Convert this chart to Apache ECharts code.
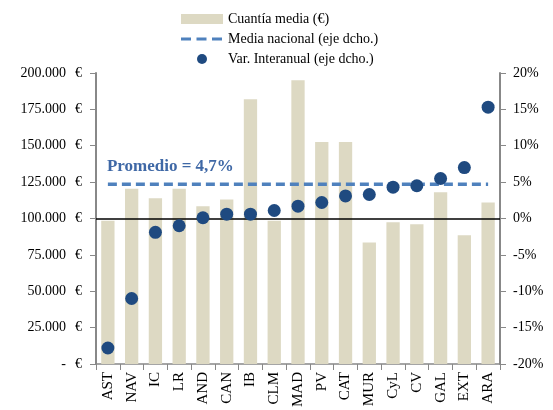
<!DOCTYPE html>
<html>
<head>
<meta charset="utf-8">
<script src="https://cdn.jsdelivr.net/npm/echarts@6/dist/echarts.min.js"></script>
<style>
  html, body { margin: 0; padding: 0; background: #fff; }
  #chart { width: 553px; height: 410px; }
</style>
</head>
<body>
<div id="chart"></div>
<script>
const categories = ['AST', 'NAV', 'IC', 'LR', 'AND', 'CAN', 'IB', 'CLM', 'MAD', 'PV', 'CAT', 'MUR', 'CyL', 'CV', 'GAL', 'EXT', 'ARA'];
const amounts = [98500, 120500, 114000, 120500, 108500, 113000, 182000, 98500, 195000, 152500, 152500, 83500, 97500, 96000, 118000, 88500, 111000];
const yoyChange = [-17.8, -11.0, -1.9, -1.0, 0.1, 0.6, 0.6, 1.1, 1.7, 2.2, 3.1, 3.3, 4.3, 4.5, 5.5, 7.0, 15.3];
const nationalAvg = 4.7;

const serif = '"Liberation Serif", "Times New Roman", serif';

// dashed legend icon: three dashes, tiny corner dots keep the 42x10 box
const dashIcon = 'path://M0,0h0.01v0.01h-0.01z M41.99,9.99h0.01v0.01h-0.01z ' +
    'M0,3.5h10v3h-10z M15.5,3.5h10v3h-10z M31,3.5h10v3h-10z';

const chart = echarts.init(document.getElementById('chart'));

function euroLabel(v) {
    if (v === 0) return '{n|-}{e|€}';
    return '{n|' + v.toLocaleString('de-DE') + '}{e|€}';
}

const option = {
    animation: false,
    textStyle: { fontFamily: serif },
    grid: { left: 96, right: 53, top: 73, bottom: 46 },
    legend: {
        orient: 'vertical',
        left: 176,
        top: 7,
        itemWidth: 42,
        itemHeight: 10,
        itemGap: 6,
        textStyle: { fontFamily: serif, fontSize: 14, color: '#000' },
        data: [
            { name: 'Cuantía media (€)', icon: 'rect' },
            { name: 'Media nacional (eje dcho.)', icon: dashIcon },
            'Var. Interanual (eje dcho.)',
        ],
    },
    xAxis: {
        type: 'category',
        data: categories,
        axisLine: { lineStyle: { color: '#888', width: 1.5 } },
        axisTick: { show: true, length: 6, lineStyle: { color: '#888' } },
        axisLabel: {
            rotate: 90,
            interval: 0,
            margin: 8,
            fontFamily: serif,
            fontSize: 15,
            color: '#000',
        },
    },
    yAxis: [
        {
            type: 'value',
            min: 0,
            max: 200000,
            interval: 25000,
            splitLine: { show: false },
            axisLine: { show: true, lineStyle: { color: '#888', width: 2 } },
            axisTick: { show: true, length: 6, lineStyle: { color: '#888' } },
            axisLabel: {
                margin: 14,
                formatter: euroLabel,
                rich: {
                    n: { fontFamily: serif, fontSize: 14, color: '#000', width: 52, align: 'right' },
                    e: { fontFamily: serif, fontSize: 14, color: '#000', padding: [0, 0, 0, 9] },
                },
            },
        },
        {
            type: 'value',
            min: -20,
            max: 20,
            interval: 5,
            splitLine: { show: false },
            axisLine: { show: true, lineStyle: { color: '#888', width: 2 } },
            axisTick: { show: true, length: 6, lineStyle: { color: '#888' } },
            axisLabel: {
                margin: 13,
                formatter: '{value}%',
                fontFamily: serif,
                fontSize: 14,
                color: '#000',
            },
        },
    ],
    series: [
        {
            name: 'Cuantía media (€)',
            type: 'bar',
            yAxisIndex: 0,
            data: amounts,
            barWidth: '56%',
            itemStyle: { color: '#DDD9C3' },
        },
        {
            name: 'Media nacional (eje dcho.)',
            type: 'line',
            yAxisIndex: 1,
            data: categories.map(() => nationalAvg),
            symbol: 'none',
            lineStyle: { color: '#4F81BD', width: 3.5, type: [9, 5] },
            itemStyle: { color: '#4F81BD' },
            z: 3,
            markPoint: {
                silent: true,
                symbol: 'circle',
                symbolSize: 0,
                data: [{
                    coord: [0, nationalAvg],
                    label: {
                        show: true,
                        position: 'top',
                        align: 'left',
                        distance: 0,
                        offset: [-1, -9],
                        formatter: 'Promedio = 4,7%',
                        fontFamily: serif,
                        fontWeight: 'bold',
                        fontSize: 17,
                        color: '#3F68A6',
                    },
                }],
            },
        },
        {
            name: 'Var. Interanual (eje dcho.)',
            type: 'scatter',
            yAxisIndex: 1,
            data: yoyChange,
            symbol: 'circle',
            symbolSize: 13,
            itemStyle: { color: '#1F4A80', opacity: 1 },
            z: 5,
            markLine: {
                silent: true,
                symbol: 'none',
                label: { show: false },
                lineStyle: { color: '#000', width: 1.5, type: 'solid' },
                data: [{ yAxis: 0 }],
                z: 4,
            },
        },
    ],
};

chart.setOption(option);
</script>
</body>
</html>
